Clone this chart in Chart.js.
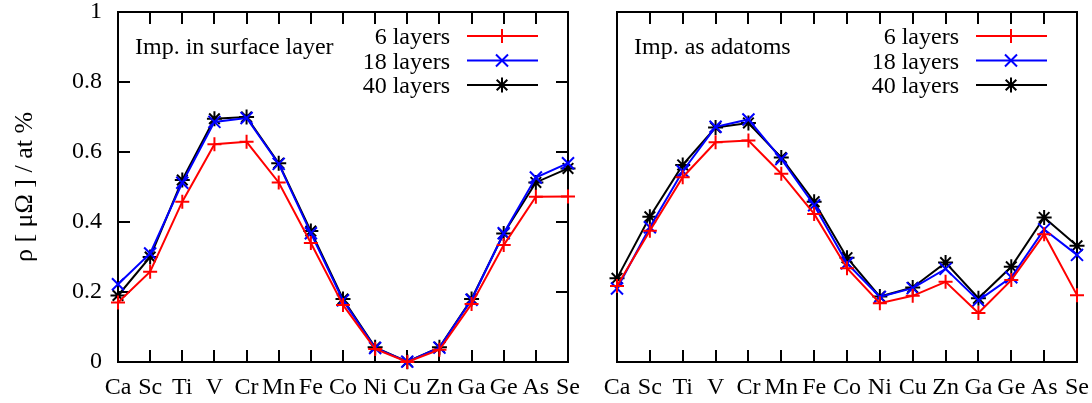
<!DOCTYPE html>
<html>
<head>
<meta charset="utf-8">
<script src="https://cdn.jsdelivr.net/npm/chart.js@4/dist/chart.umd.min.js"></script>
<style>
  html, body { margin: 0; padding: 0; background: #fff; }
  #wrap { position: relative; width: 1092px; height: 403px; overflow: hidden; }
  .panel { position: absolute; top: 0; height: 403px; }
  #p1 { left: 0; width: 590px; }
  #p2 { left: 590px; width: 502px; }
</style>
</head>
<body>
<div id="wrap">
  <div class="panel" id="p1"><canvas id="c1"></canvas></div>
  <div class="panel" id="p2"><canvas id="c2"></canvas></div>
</div>
<script>
// Impurity elements along the x axis
const elements = ['Ca','Sc','Ti','V','Cr','Mn','Fe','Co','Ni','Cu','Zn','Ga','Ge','As','Se'];

// Resistivity per impurity concentration, impurities in the surface layer
const surface6  = [0.170, 0.258, 0.458, 0.622, 0.629, 0.513, 0.340, 0.163, 0.037, 0.000, 0.035, 0.166, 0.334, 0.472, 0.473];
const surface18 = [0.222, 0.310, 0.512, 0.686, 0.697, 0.566, 0.368, 0.176, 0.040, 0.001, 0.041, 0.178, 0.368, 0.527, 0.568];
const surface40 = [0.190, 0.300, 0.520, 0.695, 0.700, 0.568, 0.374, 0.180, 0.042, 0.001, 0.042, 0.180, 0.367, 0.513, 0.553];

// Resistivity per impurity concentration, impurities as adatoms
const adatom6  = [0.217, 0.375, 0.528, 0.628, 0.633, 0.538, 0.423, 0.268, 0.168, 0.189, 0.229, 0.140, 0.234, 0.365, 0.191];
const adatom18 = [0.210, 0.385, 0.545, 0.672, 0.693, 0.580, 0.448, 0.282, 0.186, 0.211, 0.266, 0.176, 0.242, 0.379, 0.306];
const adatom40 = [0.239, 0.415, 0.563, 0.670, 0.683, 0.584, 0.458, 0.298, 0.187, 0.213, 0.284, 0.182, 0.272, 0.413, 0.332];

const seriesNames = ['6 layers', '18 layers', '40 layers'];
const yTicks = [0, 0.2, 0.4, 0.6, 0.8, 1];

const FONT = 'Liberation Serif, "Times New Roman", serif';

const styles = [
  { color: '#ff0000', pointStyle: 'cross',    radius: 7 },
  { color: '#0000ff', pointStyle: 'crossRot', radius: 8.5 },
  { color: '#000000', pointStyle: 'star',     radius: 7.5 }
];

function makeDatasets(arrays) {
  return arrays.map((data, i) => ({
    label: seriesNames[i],
    data: data,
    borderColor: styles[i].color,
    backgroundColor: styles[i].color,
    borderWidth: 2,
    pointStyle: styles[i].pointStyle,
    pointRadius: styles[i].radius,
    pointBorderWidth: 2,
    pointBorderColor: styles[i].color,
    tension: 0,
    clip: false
  }));
}

// Frame, inward tick marks, panel caption and key drawn on the canvas
const framePlugin = {
  id: 'frame',
  beforeDatasetsDraw(chart, args, opts) {
    const { ctx, chartArea: a, scales } = chart;
    ctx.save();
    ctx.strokeStyle = '#000';
    ctx.lineWidth = 2;
    ctx.strokeRect(a.left, a.top, a.right - a.left, a.bottom - a.top);
    const L = 12;
    ctx.beginPath();
    elements.forEach((_, i) => {
      const x = Math.round(scales.x.getPixelForValue(i));
      ctx.moveTo(x, a.bottom); ctx.lineTo(x, a.bottom - L);
      ctx.moveTo(x, a.top);    ctx.lineTo(x, a.top + L);
    });
    if (opts.yTicks) {
      yTicks.forEach(v => {
        const y = Math.round(scales.y.getPixelForValue(v));
        ctx.moveTo(a.left, y);  ctx.lineTo(a.left + L, y);
        ctx.moveTo(a.right, y); ctx.lineTo(a.right - L, y);
      });
    }
    ctx.stroke();
    ctx.restore();
  },
  afterDraw(chart, args, opts) {
    const { ctx, chartArea: a } = chart;
    ctx.save();
    ctx.fillStyle = '#000';
    ctx.font = '24px ' + FONT;
    ctx.textBaseline = 'alphabetic';
    ctx.textAlign = 'left';
    ctx.fillText(opts.caption, a.left + 17, a.top + 42);
    chart.data.datasets.forEach((ds, i) => {
      const ly = a.top + 24 + i * 24.5;
      ctx.textAlign = 'right';
      ctx.fillStyle = '#000';
      ctx.fillText(ds.label, a.right - 118, ly + 8);
      ctx.strokeStyle = ds.borderColor;
      ctx.lineWidth = 2;
      ctx.beginPath();
      ctx.moveTo(a.right - 101, ly);
      ctx.lineTo(a.right - 30, ly);
      ctx.stroke();
      Chart.helpers.drawPoint(ctx, {
        pointStyle: ds.pointStyle, radius: ds.pointRadius, rotation: 0, borderWidth: 2
      }, a.right - 66, ly);
    });
    ctx.restore();
  }
};

function makeChart(canvasId, arrays, caption, withLabels, leftWidth, rightPad) {
  return new Chart(document.getElementById(canvasId), {
    type: 'line',
    data: { labels: elements, datasets: makeDatasets(arrays) },
    plugins: [framePlugin],
    options: {
      responsive: true,
      maintainAspectRatio: false,
      animation: false,
      events: [],
      layout: { padding: { left: 0, right: rightPad, top: 12, bottom: 0 } },
      plugins: {
        legend: { display: false },
        tooltip: { enabled: false },
        frame: { caption: caption, yTicks: withLabels }
      },
      scales: {
        x: {
          type: 'category',
          offset: false,
          grid: { display: false, drawTicks: false },
          border: { display: false },
          ticks: {
            autoSkip: false, maxRotation: 0, minRotation: 0,
            padding: 11, color: '#000',
            font: { family: FONT, size: 24 }
          },
          afterFit(s) { s.height = 41; s.paddingLeft = 0; s.paddingRight = 0; }
        },
        y: {
          min: 0, max: 1,
          grid: { display: false, drawTicks: false },
          border: { display: false },
          ticks: {
            display: withLabels,
            stepSize: 0.2, padding: 16, color: '#000',
            font: { family: FONT, size: 24 },
            callback: v => String(Math.round(v * 10) / 10)
          },
          title: {
            display: withLabels,
            text: 'ρ [ μΩ ] / at %',
            color: '#000',
            font: { family: FONT, size: 26 },
            padding: { top: 10, bottom: 0 }
          },
          afterFit(s) { s.width = leftWidth; s.paddingTop = 0; s.paddingBottom = 0; }
        }
      }
    }
  });
}

makeChart('c1', [surface6, surface18, surface40], 'Imp. in surface layer', true, 118, 22);
makeChart('c2', [adatom6, adatom18, adatom40], 'Imp. as adatoms', false, 27, 15);
</script>
</body>
</html>
